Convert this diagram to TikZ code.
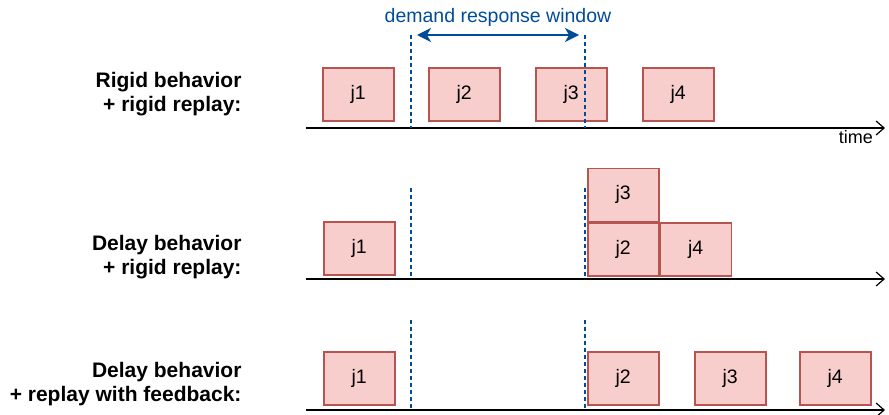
\documentclass[tikz,border=0pt]{standalone}
\usepackage{fontspec}
\setmainfont{Liberation Sans}
\usetikzlibrary{positioning}
\usetikzlibrary{arrows.meta}

\definecolor{jobfill}{HTML}{F8CECC}
\definecolor{jobline}{HTML}{B85450}
\definecolor{drblue}{HTML}{004C99}

\begin{document}
\begin{tikzpicture}[
    x=1pt, y=-1pt,
    every node/.style={font=\fontsize{19.5}{22}\selectfont},
    job/.style={draw=jobline, fill=jobfill, line width=1.5pt, minimum width=71pt, minimum height=53pt, inner sep=0pt, anchor=north west},
    axis/.style={line width=1.5pt, -{Straight Barb[length=8pt,width=14pt,line width=1.2pt]}},
    window/.style={drblue, line width=1.5pt, dash pattern=on 4pt off 3pt},
    rowlabel/.style={font=\bfseries\fontsize{21}{24}\selectfont, align=right, anchor=east}
]
\useasboundingbox (0,0) rectangle (889,415);

% top row: rigid behaviour
\node[rowlabel] (lab1) at (245,94) {Rigid behavior\\+ rigid replay:};
\node[job] (r1j1) at (322,67) {j1};
\node[job] (r1j2) at (428,67) {j2};
\node[job] (r1j3) at (535,67) {j3};
\node[job] (r1j4) at (642,67) {j4};
\coordinate (ax1s) at (306,128);
\coordinate (ax1e) at (885,128);
\draw[axis] (ax1s) -- (ax1e);
\node[anchor=north east, inner sep=0pt, font=\fontsize{18}{20}\selectfont] (time) at (873,130) {time};

% demand response window
\coordinate (w1a) at (411,35);
\coordinate (w1b) at (585,35);
\coordinate (w1c) at (411,128);
\coordinate (w1d) at (585,128);
\draw[window] (w1a) -- (w1c);
\draw[window] (w1b) -- (w1d);
\draw[drblue, line width=1.5pt, {Stealth[length=14pt,width=14pt,inset=4pt]}-{Stealth[length=14pt,width=14pt,inset=4pt]}] (417,35) coordinate (wl) -- (579,35) coordinate (wr);
\node[drblue] (wlabel) at (498,17) {demand response window};

% middle row: delay behaviour, rigid replay
\node[rowlabel] (lab2) at (245,257) {Delay behavior\\+ rigid replay:};
\node[job] (r2j1) at (323,221) {j1};
\node[job] (r2j2) at (587,222) {j2};
\node[job, above=0pt of r2j2.north west, anchor=south west] (r2j3) {j3};
\node[job, right=0pt of r2j2.north east, anchor=north west] (r2j4) {j4};
\coordinate (ax2s) at (306,279);
\coordinate (ax2e) at (885,279);
\draw[axis] (ax2s) -- (ax2e);
\coordinate (w2a) at (411,188);
\coordinate (w2b) at (585,188);
\coordinate (w2c) at (411,279);
\coordinate (w2d) at (585,279);
\draw[window] (w2a) -- (w2c);
\draw[window] (w2b) -- (w2d);

% bottom row: delay behaviour, replay with feedback
\node[rowlabel] (lab3) at (245,384) {Delay behavior\\+ replay with feedback:};
\node[job] (r3j1) at (323,351) {j1};
\node[job] (r3j2) at (587,351) {j2};
\node[job] (r3j3) at (694,351) {j3};
\node[job] (r3j4) at (799,351) {j4};
\coordinate (ax3s) at (306,410);
\coordinate (ax3e) at (885,410);
\draw[axis] (ax3s) -- (ax3e);
\coordinate (w3a) at (411,320);
\coordinate (w3b) at (585,320);
\coordinate (w3c) at (411,410);
\coordinate (w3d) at (585,410);
\draw[window] (w3a) -- (w3c);
\draw[window] (w3b) -- (w3d);
\end{tikzpicture}
\end{document}
